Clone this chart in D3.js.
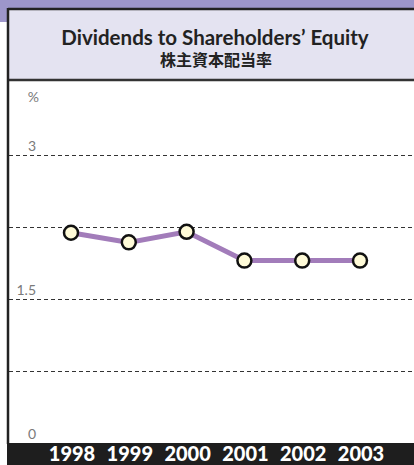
<!DOCTYPE html>
<html lang="en">
<head>
<meta charset="UTF-8" />
<style>
  body { margin: 0; background: #fff; }
  svg { display: block; }
</style>
</head>
<body>
<svg width="414" height="465"></svg>
<script src="https://d3js.org/d3.v7.min.js"></script>
<script>
// data
var years = ["1998", "1999", "2000", "2001", "2002", "2003"];
var ratio = [2.19, 2.09, 2.20, 1.90, 1.90, 1.90];
var gridValues = [0.75, 1.5, 2.25, 3];
var tickLabels = [0, 1.5, 3];

var svg = d3.select("svg"),
    width = +svg.attr("width"),
    height = +svg.attr("height");

var font = "Lato, 'Noto Sans', sans-serif";

// purple header strip behind the panel
svg.append("rect").attr("x", 0).attr("y", 0).attr("width", width).attr("height", 22)
    .attr("fill", "#9d96ca");

// title panel
svg.append("rect").attr("x", 8).attr("y", 9).attr("width", width - 8).attr("height", 71)
    .attr("fill", "#e4e3f1");
svg.append("line").attr("x1", 8).attr("x2", width).attr("y1", 9).attr("y2", 9)
    .attr("stroke", "#222").attr("stroke-width", 2.5);
svg.append("line").attr("x1", 8).attr("x2", width).attr("y1", 80).attr("y2", 80)
    .attr("stroke", "#333").attr("stroke-width", 2.5);

svg.append("text").attr("x", 215).attr("y", 45)
    .attr("text-anchor", "middle")
    .style("font-family", font).style("font-weight", "bold").style("font-size", "20.5px")
    .attr("fill", "#222")
    .text("Dividends to Shareholders\u2019 Equity");
svg.append("text").attr("x", 216).attr("y", 66)
    .attr("text-anchor", "middle")
    .style("font-family", "'Noto Sans CJK JP', sans-serif").style("font-weight", "bold").style("font-size", "16px")
    .attr("fill", "#222")
    .text("株主資本配当率");

// scales
var x = d3.scalePoint().domain(years).range([71, 360]);
var y = d3.scaleLinear().domain([0, 3]).range([443, 155]);

// grid lines
svg.selectAll(".grid")
    .data(gridValues)
    .enter().append("line")
    .attr("class", "grid")
    .attr("x1", 9).attr("x2", width)
    .attr("y1", function (d) { return Math.round(y(d)) + 0.5; })
    .attr("y2", function (d) { return Math.round(y(d)) + 0.5; })
    .attr("stroke", "#333").attr("stroke-width", 1)
    .attr("stroke-dasharray", "4,3");

// axis labels
svg.selectAll(".ylab")
    .data(tickLabels)
    .enter().append("text")
    .attr("class", "ylab")
    .attr("x", 36)
    .attr("y", function (d) { return y(d) - 4; })
    .attr("text-anchor", "end")
    .style("font-family", font).style("font-size", "14px")
    .attr("fill", "#7a7a7a")
    .text(function (d) { return d; });
svg.append("text").attr("x", 39).attr("y", 102)
    .attr("text-anchor", "end")
    .style("font-family", font).style("font-size", "14px")
    .attr("fill", "#7a7a7a")
    .text("%");

// left border
svg.append("line").attr("x1", 8).attr("x2", 8).attr("y1", 8).attr("y2", 444)
    .attr("stroke", "#222").attr("stroke-width", 2.5);

// bottom band with years
svg.append("rect").attr("x", 7).attr("y", 443).attr("width", width - 7).attr("height", height - 443)
    .attr("fill", "#1e1e1e");
svg.selectAll(".year")
    .data(years)
    .enter().append("text")
    .attr("class", "year")
    .attr("x", function (d) { return x(d) + 1; })
    .attr("y", 460.5)
    .attr("text-anchor", "middle")
    .style("font-family", font).style("font-weight", "900").style("font-size", "20px")
    .attr("fill", "#fff")
    .text(function (d) { return d; });

// line + points
var line = d3.line()
    .x(function (d, i) { return x(years[i]); })
    .y(function (d) { return y(d); });

svg.append("path")
    .datum(ratio)
    .attr("d", line)
    .attr("fill", "none")
    .attr("stroke", "#a27cba")
    .attr("stroke-width", 5);

svg.selectAll(".pt")
    .data(ratio)
    .enter().append("circle")
    .attr("class", "pt")
    .attr("cx", function (d, i) { return x(years[i]); })
    .attr("cy", function (d) { return y(d); })
    .attr("r", 7)
    .attr("fill", "#fffbd8")
    .attr("stroke", "#111")
    .attr("stroke-width", 2.5);
</script>
</body>
</html>
